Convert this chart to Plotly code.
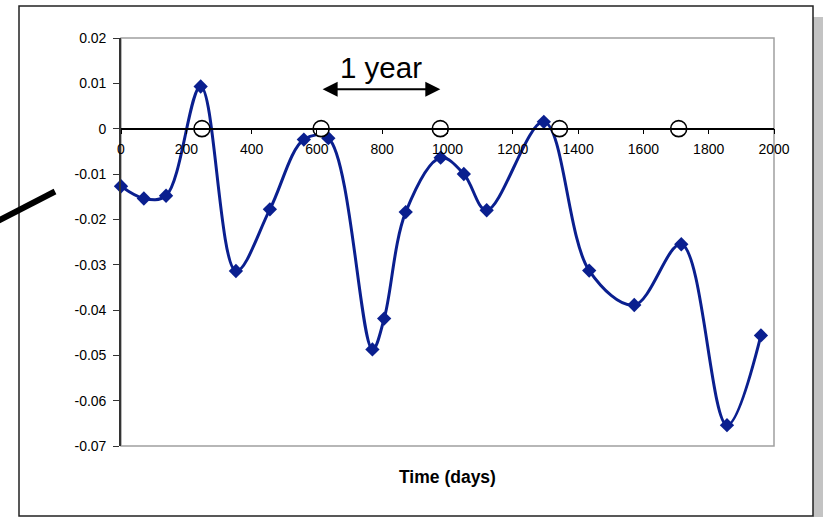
import plotly.graph_objects as go

# ---- data ----
days = [0, 70, 138, 244, 352, 456, 560, 635, 770, 806, 872, 979, 1050, 1120,
        1295, 1434, 1572, 1716, 1856, 1960]
values = [-0.0127, -0.0154, -0.0148, 0.0093, -0.0314, -0.0178, -0.0024, -0.0021,
          -0.0487, -0.0419, -0.0184, -0.0064, -0.0100, -0.0180, 0.0015, -0.0313,
          -0.0389, -0.0255, -0.0654, -0.0456]
year_marks = [248, 613, 978, 1343, 1708]
year_marks_y = [0, 0, 0, 0, 0]
y_tick_vals = [0.02, 0.01, 0, -0.01, -0.02, -0.03, -0.04, -0.05, -0.06, -0.07]
y_tick_text = ["0.02", "0.01", "0", "-0.01", "-0.02", "-0.03", "-0.04", "-0.05", "-0.06", "-0.07"]
x_tick_vals = [0, 200, 400, 600, 800, 1000, 1200, 1400, 1600, 1800, 2000]
x_tick_text = [str(v) for v in x_tick_vals]
arrow_start, arrow_end, arrow_y = 613, 978, 0.0087
label_text = "1 year"
x_title = "Time (days)"

W, H = 823, 517
L, R, T, B = 121, 49, 38, 71
PW, PH = W - L - R, H - T - B

def px(x):
    return (x - L) / PW

def py(y):
    return (H - B - y) / PH

FONT = "Arial, Liberation Sans, sans-serif"
LINE_COLOR = "#0a1f8f"

fig = go.Figure()
fig.add_trace(go.Scatter(
    x=days, y=values, mode="lines+markers",
    line=dict(color=LINE_COLOR, width=3, shape="spline", smoothing=1),
    marker=dict(symbol="diamond", size=11, color=LINE_COLOR),
    showlegend=False, cliponaxis=False,
))
fig.add_trace(go.Scatter(
    x=year_marks, y=year_marks_y, mode="markers",
    marker=dict(symbol="circle", size=16, color="white",
                line=dict(color="black", width=1.6)),
    showlegend=False, cliponaxis=False,
))

ymin, ymax = -0.07, 0.02
fig.update_layout(
    width=W, height=H,
    margin=dict(l=L, r=R, t=T, b=B),
    paper_bgcolor="white", plot_bgcolor="white",
    font=dict(family=FONT, color="black", size=14),
    xaxis=dict(
        range=[0, 2000], anchor="free", position=(0 - ymin) / (ymax - ymin),
        tickvals=x_tick_vals, ticktext=x_tick_text,
        showgrid=False, zeroline=False,
        showline=True, linecolor="black", linewidth=1.6,
        ticks="outside", ticklen=5, tickcolor="black", tickwidth=1.3,
        tickfont=dict(size=14, family=FONT, color="black"),
        ticklabelstandoff=3,
    ),
    yaxis=dict(
        range=[ymin, ymax],
        tickvals=y_tick_vals, ticktext=y_tick_text,
        showgrid=False, zeroline=False,
        showline=True, linecolor="#333333", linewidth=1.6,
        ticks="outside", ticklen=6, tickcolor="#333333", tickwidth=1.3,
        tickfont=dict(size=14, family=FONT, color="black"),
        ticklabelstandoff=4,
    ),
)

shapes = [
    # drop shadow
    dict(type="rect", xref="paper", yref="paper",
         x0=px(813), x1=px(830), y0=py(17), y1=py(530),
         fillcolor="#c3c3c3", line=dict(width=0), layer="below"),
    # chart border
    dict(type="rect", xref="paper", yref="paper",
         x0=px(19), x1=px(813), y0=py(6), y1=py(516),
         fillcolor="white", line=dict(color="#222222", width=1.5), layer="below"),
    # plot area border
    dict(type="rect", xref="paper", yref="paper",
         x0=0, x1=1, y0=0, y1=1,
         line=dict(color="#a0a0a0", width=1.5), layer="below"),
    # pointer line
    dict(type="line", xref="paper", yref="paper",
         x0=px(-5), y0=py(222.5), x1=px(55), y1=py(191.5),
         line=dict(color="black", width=6)),
]
fig.update_layout(shapes=shapes)

fig.add_annotation(
    x=arrow_end, y=arrow_y, ax=arrow_start, ay=arrow_y,
    xref="x", yref="y", axref="x", ayref="y",
    text="", showarrow=True, arrowside="end+start",
    arrowhead=2, startarrowhead=2, arrowsize=1.5, startarrowsize=1.5,
    arrowwidth=2, arrowcolor="black",
)
fig.add_annotation(
    x=(arrow_start + arrow_end) / 2, y=0.0135, xref="x", yref="y",
    text=label_text, showarrow=False,
    font=dict(size=29.5, family=FONT, color="black"),
    xanchor="center", yanchor="middle",
)
fig.add_annotation(
    x=0.5, y=py(477), xref="paper", yref="paper",
    text="<b>" + x_title + "</b>", showarrow=False,
    font=dict(size=17.5, family=FONT, color="black"),
    xanchor="center", yanchor="middle",
)

fig.write_html("out.html")
